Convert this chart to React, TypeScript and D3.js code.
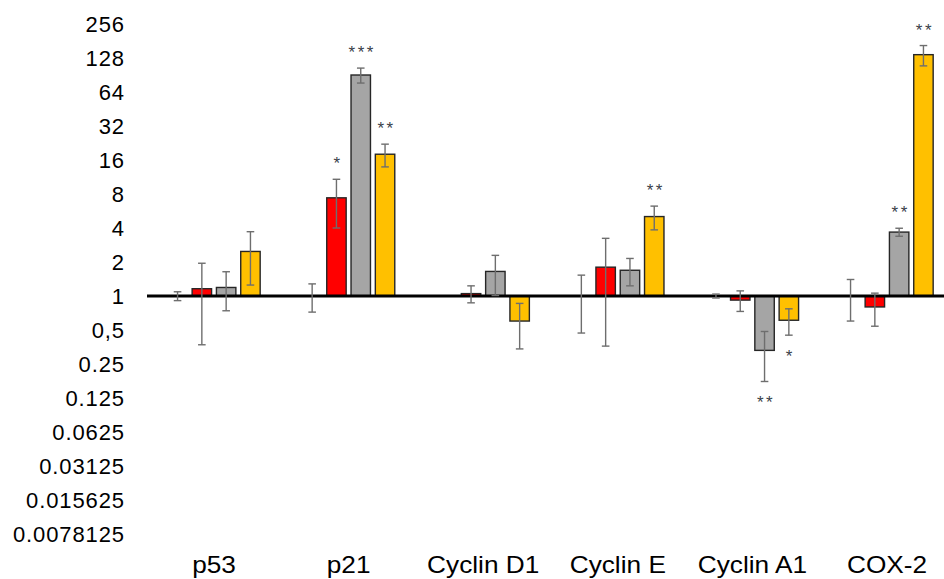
import React from "react";
import * as d3 from "d3";

const categories = ["p53", "p21", "Cyclin D1", "Cyclin E", "Cyclin A1", "COX-2"];
const seriesNames = ["Control", "Treatment A", "Treatment B", "Treatment C"];
const seriesColors = ["#FFFFFF", "#FF0000", "#A5A5A5", "#FFC000"];

const controlMean = [1, 1, 1, 1, 1, 1];
const controlSd = [0.09, 0.28, 0, 0.53, 0.04, 0.4];
const redMean = [1.16, 7.4, 1.05, 1.8, 0.92, 0.8];
const redSd = [0.79, 3.4, 0.18, 1.44, 0.19, 0.26];
const grayMean = [1.19, 90.5, 1.65, 1.69, 0.33, 3.68];
const graySd = [0.45, 13.7, 0.64, 0.46, 0.155, 0.3];
const yellowMean = [2.48, 18, 0.6, 5.05, 0.61, 137];
const yellowSd = [1.23, 4.1, 0.26, 1.2, 0.16, 28];

const controlStars = ["", "", "", "", "", ""];
const redStars = ["", "*", "", "", "", ""];
const grayStars = ["", "***", "", "", "**", "**"];
const yellowStars = ["", "**", "", "**", "*", "**"];

const tickValues = [256, 128, 64, 32, 16, 8, 4, 2, 1, 0.5, 0.25, 0.125, 0.0625, 0.03125, 0.015625, 0.0078125];
const tickLabels = ["256", "128", "64", "32", "16", "8", "4", "2", "1", "0,5", "0.25", "0.125", "0.0625", "0.03125", "0.015625", "0.0078125"];

const W = 944;
const H = 579;

export default function App() {
  const means = [controlMean, redMean, grayMean, yellowMean];
  const sds = [controlSd, redSd, graySd, yellowSd];
  const stars = [controlStars, redStars, grayStars, yellowStars];

  const y = d3.scaleLog().base(2).domain([0.0078125, 256]).range([534, 24]);
  const x0 = d3.scaleBand<string>().domain(categories).range([146.7, 954.3]).paddingInner(0).paddingOuter(0);
  const innerW = 97.2;
  const x1 = d3
    .scaleBand<string>()
    .domain(seriesNames)
    .range([0, innerW])
    .paddingInner(0.2)
    .paddingOuter(0.1);
  const bw = x1.bandwidth();
  const base = y(1);
  const font = "'Liberation Sans', Arial, sans-serif";

  const bars: React.ReactNode[] = [];
  const errs: React.ReactNode[] = [];
  const starTexts: React.ReactNode[] = [];

  categories.forEach((c, ci) => {
    const gx = (x0(c) as number) + (x0.bandwidth() - innerW) / 2;
    seriesNames.forEach((s, si) => {
      const m = means[si][ci];
      const sd = sds[si][ci];
      const bx = gx + (x1(s) as number);
      const cx = bx + bw / 2;
      const yv = y(m);
      if (si > 0) {
        bars.push(
          <rect
            key={`b${ci}-${si}`}
            x={bx}
            y={Math.min(yv, base)}
            width={bw}
            height={Math.max(Math.abs(yv - base), 0.5)}
            fill={seriesColors[si]}
            stroke="#262626"
            strokeWidth={1.4}
          />
        );
      }
      if (sd > 0) {
        const hi = y(m + sd);
        const lo = y(Math.max(m - sd, 0.0078125));
        errs.push(
          <g key={`e${ci}-${si}`} stroke="#6E6E6E" strokeWidth={1.4}>
            <line x1={cx} x2={cx} y1={hi} y2={lo} />
            <line x1={cx - 3.8} x2={cx + 3.8} y1={hi} y2={hi} />
            <line x1={cx - 3.8} x2={cx + 3.8} y1={lo} y2={lo} />
          </g>
        );
      }
      const st = stars[si][ci];
      if (st) {
        const yc = m >= 1 ? y(m + sd) - 20 : y(Math.max(m - sd, 0.0078125)) + 17;
        starTexts.push(
          <text
            key={`s${ci}-${si}`}
            x={cx + 1.5}
            y={yc + 10}
            textAnchor="middle"
            fontFamily={font}
            fontSize={17}
            letterSpacing={2.5}
            fill="#3A3F4A"
          >
            {st}
          </text>
        );
      }
    });
  });

  return (
    <svg width={W} height={H} style={{ position: "absolute", left: 0, top: 0, background: "#fff" }}>
      <rect x={0} y={0} width={W} height={H} fill="#fff" />
      {tickValues.map((v, i) => (
        <text
          key={`t${i}`}
          x={125}
          y={y(v)}
          dy="0.35em"
          textAnchor="end"
          fontFamily={font}
          fontSize={22}
          letterSpacing={0.9}
          fill="#000"
        >
          {tickLabels[i]}
        </text>
      ))}
      {bars}
      <line x1={147} x2={W} y1={base} y2={base} stroke="#000" strokeWidth={3} />
      {errs}
      {starTexts}
      {categories.map((c) => (
        <text
          key={`c${c}`}
          transform={`translate(${(x0(c) as number) + x0.bandwidth() / 2},573) scale(1.14,1)`}
          x={0}
          y={0}
          textAnchor="middle"
          fontFamily={font}
          fontSize={23}
          fill="#000"
        >
          {c}
        </text>
      ))}
    </svg>
  );
}
